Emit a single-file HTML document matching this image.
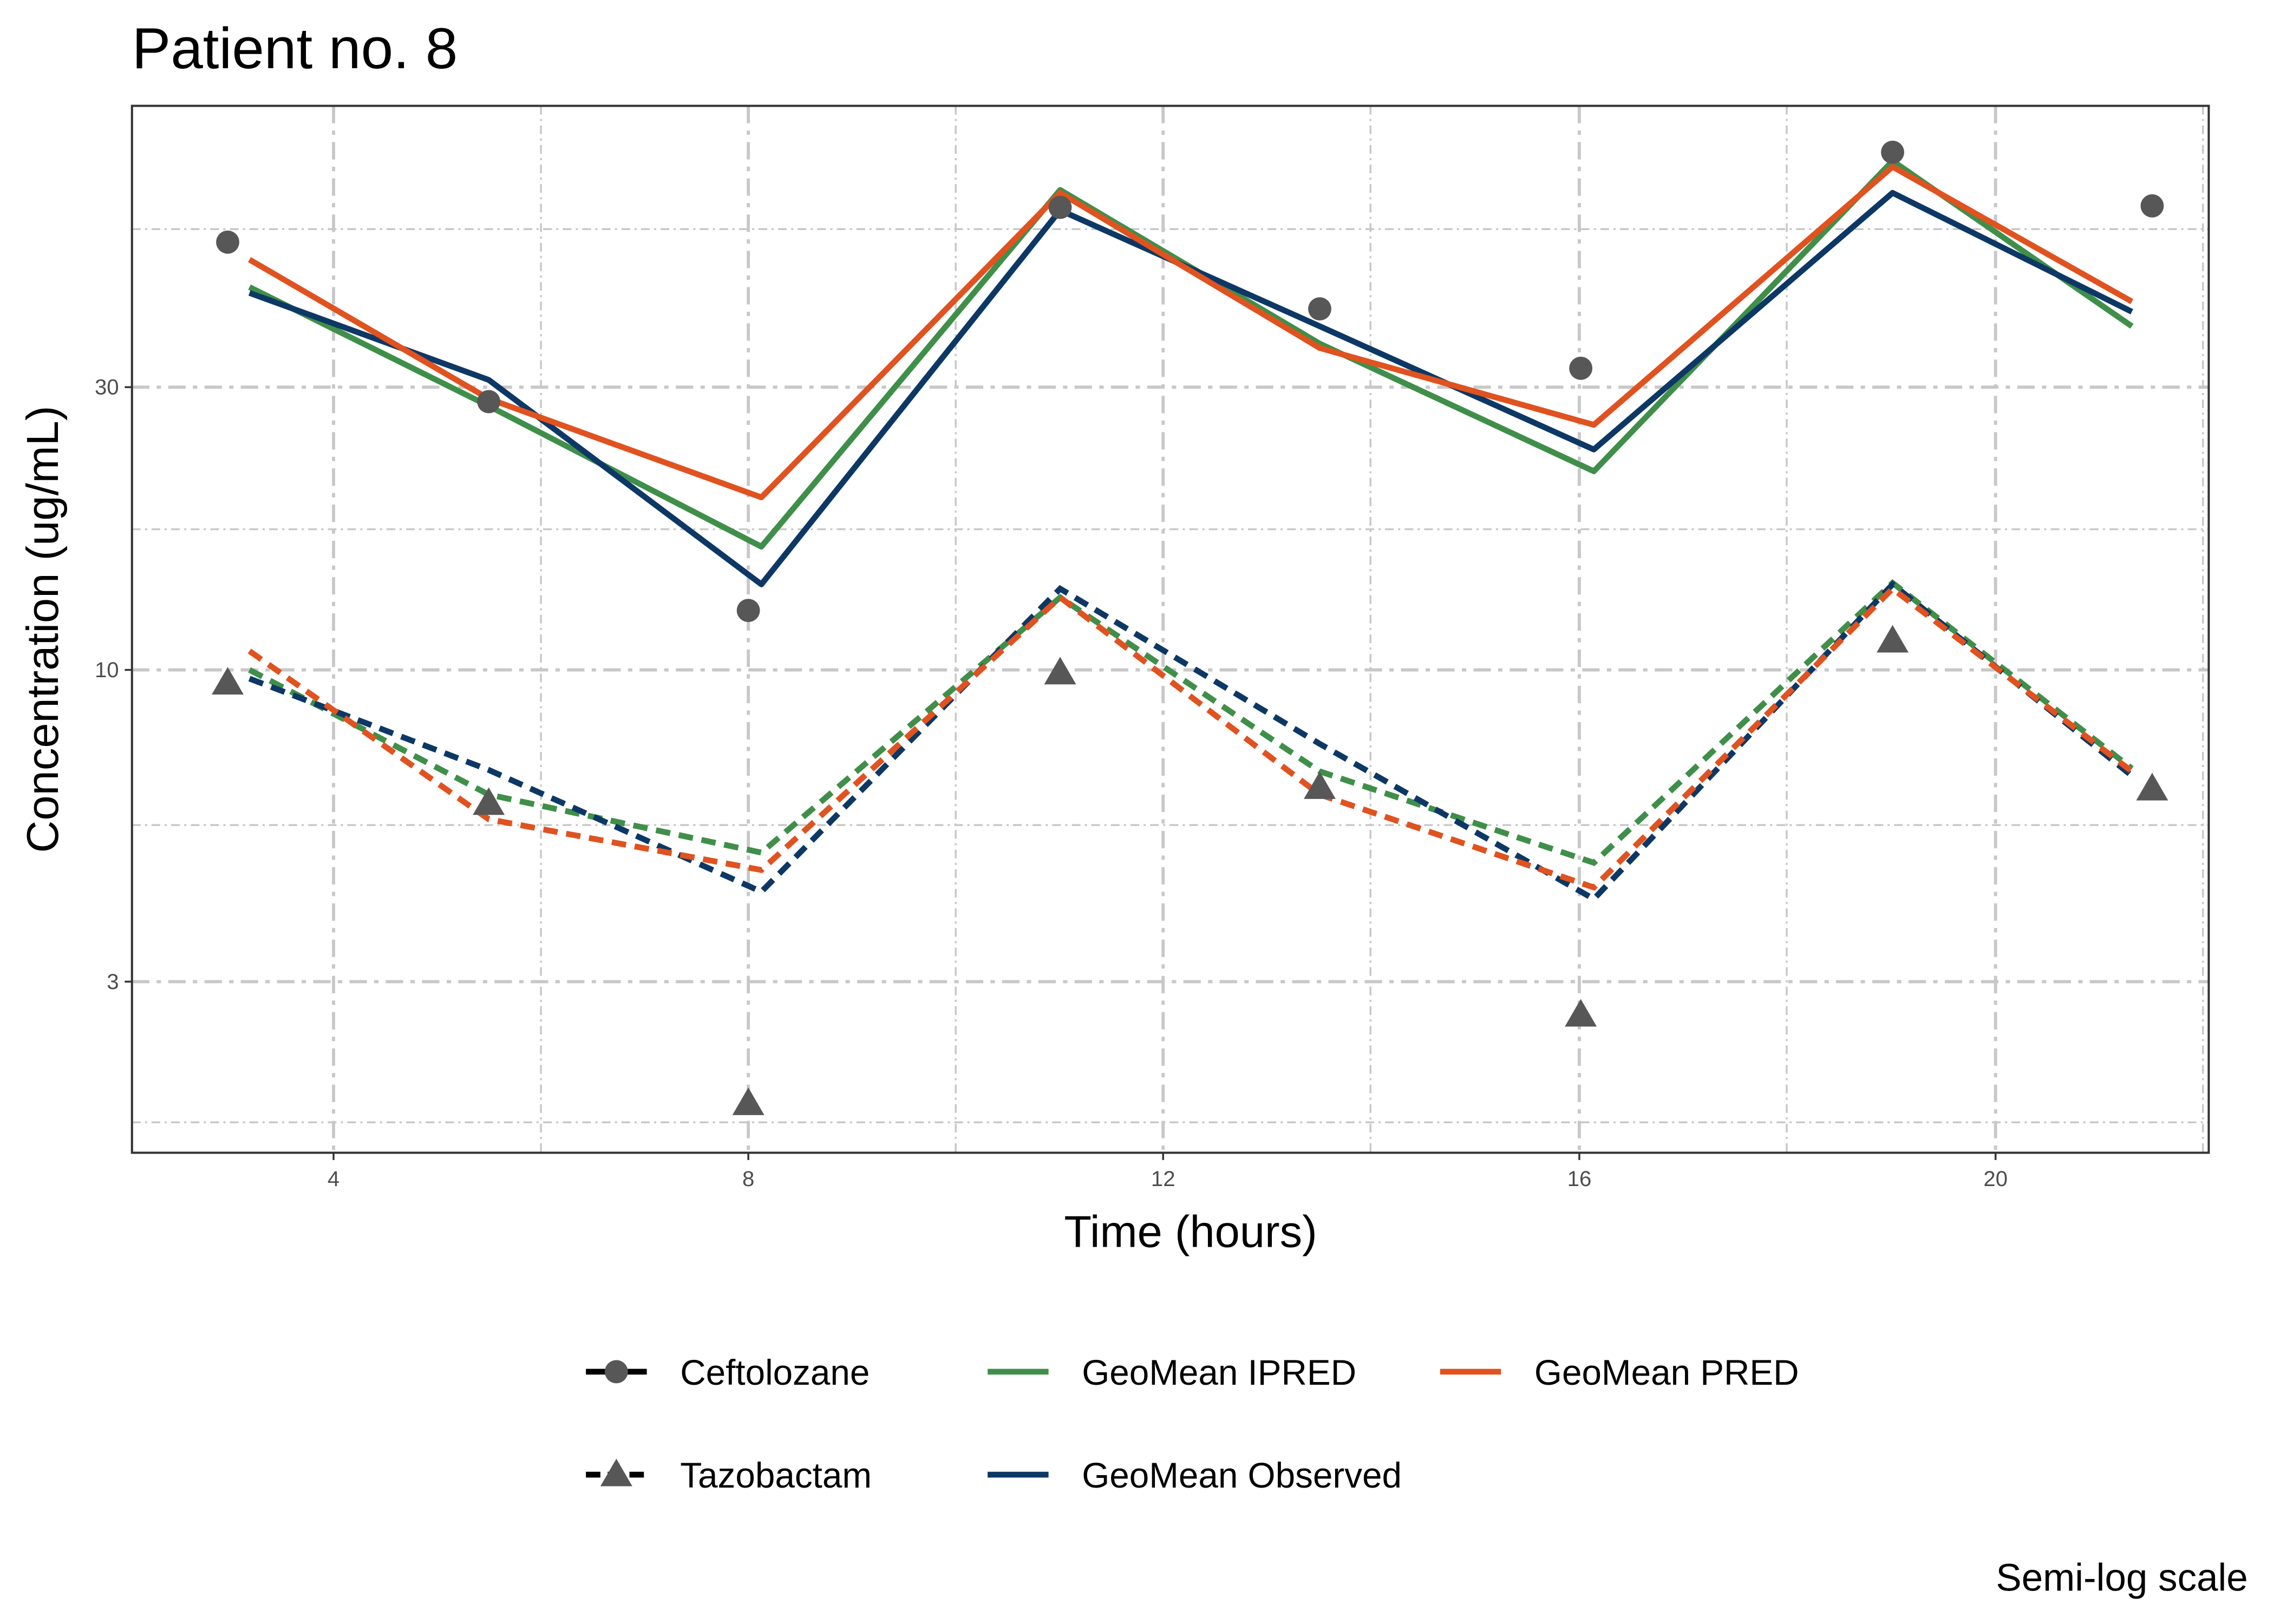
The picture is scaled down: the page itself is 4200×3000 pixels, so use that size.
<!DOCTYPE html>
<html><head><meta charset="utf-8"><style>
html,body{margin:0;padding:0;background:#fff;}
svg{display:block;}
text{font-family:"Liberation Sans",Arial,sans-serif;}
</style></head><body>
<svg width="4200" height="3000" viewBox="0 0 1568 1120" preserveAspectRatio="none" xmlns="http://www.w3.org/2000/svg">
<rect width="1568" height="1120" fill="#fff"/>
<text x="91" y="47" font-size="40" fill="#000">Patient no. 8</text>
<g stroke="#c8c8c8" stroke-width="1.3" stroke-dasharray="6,3,1.5,3" fill="none">
<line x1="91" x2="1523" y1="158" y2="158"/><line x1="91" x2="1523" y1="365" y2="365"/>
<line x1="91" x2="1523" y1="569" y2="569"/><line x1="91" x2="1523" y1="774" y2="774"/>
<line y1="73" y2="795" x1="373" x2="373"/><line y1="73" y2="795" x1="659" x2="659"/>
<line y1="73" y2="795" x1="945" x2="945"/><line y1="73" y2="795" x1="1232" x2="1232"/>
<line y1="73" y2="795" x1="1519" x2="1519"/>
</g>
<g stroke="#c8c8c8" stroke-width="2.2" stroke-dasharray="12,5,3,5" fill="none">
<line x1="91" x2="1523" y1="267" y2="267"/><line x1="91" x2="1523" y1="462" y2="462"/>
<line x1="91" x2="1523" y1="677" y2="677"/>
<line y1="73" y2="795" x1="230" x2="230"/><line y1="73" y2="795" x1="516" x2="516"/>
<line y1="73" y2="795" x1="802" x2="802"/><line y1="73" y2="795" x1="1089" x2="1089"/>
<line y1="73" y2="795" x1="1376" x2="1376"/>
</g>
<g fill="none" stroke-width="4" stroke-linejoin="round">
<polyline stroke="#3f8f4a" points="172,198 337,280 525,377 731,131 910,237 1099,325 1305,111 1470,225"/>
<polyline stroke="#0d3865" points="172,202 337,262 525,403 731,145 910,225 1099,310 1305,133 1470,215"/>
<polyline stroke="#e0521f" points="172,179 337,275 525,343 731,133 910,240 1099,293 1305,115 1470,208"/>
</g>
<g fill="none" stroke-width="4" stroke-dasharray="10,6">
<polyline stroke="#3f8f4a" points="172,462 337,548 525,588 731,412 910,532 1099,595 1305,402 1470,530"/>
<polyline stroke="#0d3865" points="172,468 337,531 525,615 731,406 910,513 1099,620 1305,403 1470,535"/>
<polyline stroke="#e0521f" points="172,449 337,565 525,600 731,412 910,548 1099,612 1305,406 1470,532"/>
</g>
<g fill="#575757">
<circle cx="157" cy="167" r="8"/><circle cx="337" cy="277" r="8"/><circle cx="516" cy="421" r="8"/>
<circle cx="731" cy="143" r="8"/><circle cx="910" cy="213" r="8"/><circle cx="1090" cy="254" r="8"/>
<circle cx="1305" cy="105" r="8"/><circle cx="1484" cy="142" r="8"/>
<polygon points="157,460 168,479 146,479"/><polygon points="337,543 348,562 326,562"/>
<polygon points="516,750 527,769 505,769"/><polygon points="731,453 742,472 720,472"/>
<polygon points="910,532 921,551 899,551"/><polygon points="1090,689 1101,708 1079,708"/>
<polygon points="1305,431 1316,450 1294,450"/><polygon points="1484,533 1495,552 1473,552"/>
</g>
<rect x="91" y="73" width="1432" height="722" fill="none" stroke="#333" stroke-width="1.5"/>
<g stroke="#333" stroke-width="1.3">
<line x1="86" x2="91" y1="267" y2="267"/><line x1="86" x2="91" y1="462" y2="462"/><line x1="86" x2="91" y1="677" y2="677"/>
<line y1="795" y2="800" x1="230" x2="230"/><line y1="795" y2="800" x1="516" x2="516"/><line y1="795" y2="800" x1="802" x2="802"/>
<line y1="795" y2="800" x1="1089" x2="1089"/><line y1="795" y2="800" x1="1376" x2="1376"/>
</g>
<g font-size="15" fill="#4d4d4d">
<text x="82" y="272" text-anchor="end">30</text><text x="82" y="467" text-anchor="end">10</text><text x="82" y="682" text-anchor="end">3</text>
<text x="230" y="818" text-anchor="middle">4</text><text x="516" y="818" text-anchor="middle">8</text>
<text x="802" y="818" text-anchor="middle">12</text><text x="1089" y="818" text-anchor="middle">16</text>
<text x="1376" y="818" text-anchor="middle">20</text>
</g>
<text x="821" y="860" font-size="31" text-anchor="middle">Time (hours)</text>
<text transform="translate(40,434) rotate(-90)" font-size="31" text-anchor="middle">Concentration (ug/mL)</text>
<g stroke-width="4">
<line x1="404" x2="446" y1="946" y2="946" stroke="#000"/>
<line x1="404" x2="446" y1="1017" y2="1017" stroke="#000" stroke-dasharray="10,5"/>
<line x1="681" x2="723" y1="946" y2="946" stroke="#3f8f4a"/>
<line x1="681" x2="723" y1="1017" y2="1017" stroke="#0d3865"/>
<line x1="993" x2="1035" y1="946" y2="946" stroke="#e0521f"/>
</g>
<circle cx="425" cy="946" r="8" fill="#575757"/>
<polygon points="425,1006 436,1025 414,1025" fill="#575757"/>
<g font-size="24.5" fill="#000">
<text x="469" y="955">Ceftolozane</text><text x="469" y="1026">Tazobactam</text>
<text x="746" y="955">GeoMean IPRED</text><text x="746" y="1026">GeoMean Observed</text>
<text x="1058" y="955">GeoMean PRED</text>
</g>
<text x="1550" y="1097" font-size="26.5" text-anchor="end">Semi-log scale</text>
</svg>
</body></html>
